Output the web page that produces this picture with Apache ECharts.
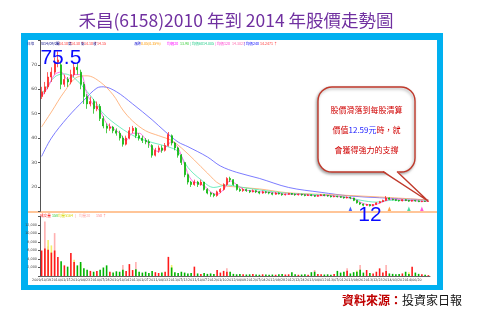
<!DOCTYPE html>
<html><head><meta charset="utf-8">
<script src="https://cdn.jsdelivr.net/npm/echarts@6/dist/echarts.min.js"></script>
<style>
html,body{margin:0;padding:0;background:#fff;}
#frame{position:absolute;left:21px;top:33px;width:422px;height:257px;background:#00b0f0;}
#inner{position:absolute;left:28px;top:40px;width:409px;height:245px;background:#fff;}
#c{position:absolute;left:0;top:0;width:477px;height:324px;}
</style>
</head><body>
<div id="frame"></div><div id="inner"></div>
<div id="c"></div>
<script>
const dateLabels = ['2009/10/19','2010/01/15','2010/04/23','2010/07/28','2010/10/14','2011/01/07','2011/04/13','2011/07/13','2011/10/07','2012/01/10','2012/04/09','2012/07/04','2012/09/28','2012/12/24','2013/04/01','2013/07/01','2013/09/26','2013/12/23','2014/03/20','2014/06/20'];

const opens = [57,59,61,65,67,71,70,62,64,63,
66,69,67,62,57,54,55,52,53,48,
45,44,44.5,43,42,40,37.5,40,43,44,
41,40,39,38.5,37,33,35,36,35,37,
41,38,36,33,30,25,22,21,22,21,
22,19,17.5,17,16.5,18,19,21,23.5,23,
21,19,18.5,19,18.5,18,18.5,18,17.5,18,
17.8,17.5,17,17.5,17.2,16.8,17,17.3,17,16.8,
17,16.8,16.5,16.8,16.5,16.2,16.5,16.8,16.5,16.3,
16,16.2,16,15.8,15.5,15.8,15.5,14.5,13.5,13,
12.5,12.8,12.3,12.8,13.5,14,14.5,15.5,15,14.8,
14.5,14.3,14.8,14.5,14.2,14.5,14.3,14,14.2,14.1];

const closes = [59,61,65,67,71,72,62,64,63,66,
69,68,62,57,54,55,52,53,48,45,
44,44.5,43,42,40,37.5,40,43,44,41,
40,39,38.5,38,33,35,36,35,37,41.5,
38,36,33,30,25,22,21,22,21,22,
19,17.5,17,16.5,18,19,21,23.5,23,21,
19,18.5,19,18.5,18,18.5,18,17.5,18,17.8,
17.5,17,17.5,17.2,16.8,17,17.3,17,16.8,17,
16.8,16.5,16.8,16.5,16.2,16.5,16.8,16.5,16.3,16,
16.2,16,15.8,15.5,15.8,15.5,14.5,13.5,13,12.5,
12.8,12.3,12.8,13.5,14,14.5,15.5,15,14.8,14.5,
14.3,14.8,14.5,14.2,14.5,14.3,14,14.2,14.1,14.15];

const lows = [56,58,60,63,66,69,60,61,61,62,
65,66,60,54,52,53,50,51,47,44,
42,43,42,41,39,36.5,37,39.5,42,40,
39,38,37.5,36,32,32.5,34,34,34.5,36.5,
37,35,32,29,24,21,20,20.5,20,20.5,
18.5,17,16,15.8,16,17.5,18.5,20.5,22,20.5,
18.5,18,18,18,17.5,17.8,17.5,17,17.2,17.3,
17,16.6,16.8,16.9,16.4,16.5,16.8,16.7,16.4,16.5,
16.4,16.2,16.3,16.2,15.9,16,16.3,16.2,16,15.7,
15.8,15.7,15.5,15.2,15.3,15,14.2,13.2,12.6,12.1,
12.2,12,12.1,12.6,13.3,13.8,14.3,14.7,14.5,14.2,
14,14.1,14.2,13.9,14,14,13.8,13.8,13.9,14.1];

const highs = [61,63,67,69,73,75.5,71,66,65,68,
71,71,68,63,58,57,56,55,54,49,
46,46,45,44,43,41,41,44.5,45,44.5,
42,41,40,39.5,37.5,36,37,37,38,42.5,
41.5,38.5,36.5,33.5,30,25.5,22.5,23,22.5,23,
22,19.5,18,17.5,18.5,19.5,21.5,24,24.2,23.2,
21.2,19.5,19.5,19.3,18.8,19,18.8,18.3,18.5,18.3,
18,17.8,17.9,17.8,17.4,17.3,17.6,17.5,17.3,17.3,
17.2,17,17.1,17,16.7,16.8,17.1,17,16.7,16.5,
16.5,16.4,16.2,16,16.1,16,15.6,14.6,13.8,13.2,
13.1,13,13,13.7,14.3,14.8,16.3,15.7,15.2,15,
14.7,15,15,14.7,14.7,14.6,14.5,14.4,14.3,14.3];

const volumes = [6000,6500,6200,5500,6000,4500,3500,2500,2200,5400,
3300,2500,3300,1800,1500,1200,1000,1200,1500,2000,
2500,1000,800,1100,1000,1500,1200,2800,1400,1600,
1000,800,1000,700,1200,900,700,800,1000,4500,
2000,900,700,1000,800,600,700,2200,600,500,
700,500,600,500,1400,800,1200,1000,1000,500,
400,450,400,350,400,500,350,300,400,350,
300,350,300,400,500,350,400,900,400,300,
350,400,300,900,1000,500,400,350,400,300,
500,1200,800,1000,1250,600,900,1000,1500,800,
1400,700,600,1000,1800,800,1200,600,500,400,
500,600,1000,500,2200,800,500,400,300,200];

const volPink = [[1,12800],[4,10100],[2,7000],[25,2600],[29,3300],[57,1800],[84,1400],[94,1800],[98,2600],[106,2600]];
const volYellow = [[2,8500],[3,7200],[10,3800],[12,2800],[40,2600],[97,1300],[113,900]];

const ma20 = [[0,57],[2,61],[4,66],[6,67],[8,64],[10,66],[12,66],[14,58],[16,53.5],[18,51],[20,46],[22,44],[24,42],[26,39],[28,42],[30,42],[32,39.5],[34,36],[36,34.5],[38,36],[40,38.5],[42,36],[44,29],[46,23],[48,21.5],[50,20.5],[52,18],[54,17],[56,19],[58,22.5],[60,21],[62,19],[64,18.5],[67,18],[70,17.8],[73,17.3],[76,17],[79,17],[82,16.7],[85,16.4],[88,16.5],[91,16.1],[94,15.7],[96,15.2],[98,13.8],[100,12.8],[102,12.6],[104,13.4],[106,14.5],[108,15],[111,14.6],[114,14.4],[117,14.2],[119,14.1]];
const ma60 = [[0,57.7],[4,65],[7,66.3],[9,65.5],[11,63.5],[14,59],[17,54],[19,50],[24,44.5],[29,40.5],[34,38.2],[39,36.4],[42,34.5],[45,28],[49,23],[53,19.8],[57,20.8],[61,20],[67,18.8],[75,17.5],[85,16.8],[93,16],[98,14.6],[103,13.8],[108,14.6],[113,14.5],[119,14.2]];
const ma120 = [[0,44.6],[3,50.7],[7,59],[11,65],[14,65.5],[18,63],[22,57.7],[25,51.5],[28,47],[32,43],[36,41],[40,39],[43,36],[47,31],[51,25.7],[55,21],[60,20],[67,19.2],[76,17.6],[90,16.8],[104,15.9],[119,14.7]];
const ma240 = [[0,32.5],[3,40],[8,48.5],[13,55.5],[17,60.5],[19,61],[23,59],[28,54],[34,47.5],[38,42.7],[42,38.4],[45,36.5],[51,32.3],[55,28.6],[60,26],[67,23.5],[76,19.8],[86,17.8],[95,16.3],[104,15.6],[119,14.7]];

const markers = [[95,11.1],[107,11.1],[113,11.1],[117,11.1]];
const markerColors = ['#1a3cff','#ff8c1a','#1fd08a','#ff2ad4'];

const N = closes.length;
const cats = Array.from({length:N}, (_, i) => 'd' + i);
const candle = closes.map((c, i) => [opens[i], c, lows[i], highs[i]]);
const UP = '#ff1a1a', DOWN = '#00b400';
const volData = volumes.map((v, i) => ({value: v, itemStyle: {color: closes[i] >= opens[i] ? UP : DOWN}}));
const showIdx = (i) => i % 6 === 0;

const chart = echarts.init(document.getElementById('c'), null, {renderer: 'canvas'});
const lineS = (data, color) => ({type: 'line', data, xAxisIndex: 0, yAxisIndex: 0, symbol: 'none', smooth: 0.35, lineStyle: {width: 0.8, color}, z: 3, silent: true});

const fmtThousands = (v) => String(v).replace(/\B(?=(\d{3})+(?!\d))/g, ',');
const FT = 'Noto Sans CJK TC, sans-serif';
const small = (x, y, text, color, size) => ({type: 'text', x, y, style: {text, fill: color, font: (size || 3.6) + 'px ' + FT, textVerticalAlign: 'middle'}});

const option = {
  animation: false,
  grid: [
    {left: 40, top: 40.4, width: 390, height: 171},
    {left: 40, top: 216.5, width: 390, height: 59.5}
  ],
  xAxis: [
    {type: 'category', gridIndex: 0, data: cats, boundaryGap: true, axisLine: {show: false}, axisTick: {show: false}, axisLabel: {show: false}},
    {type: 'category', gridIndex: 1, data: cats, boundaryGap: true,
     axisLine: {lineStyle: {color: '#666', width: 1}},
     axisTick: {interval: (i) => showIdx(i), length: 2, lineStyle: {color: '#666'}},
     axisLabel: {interval: (i) => showIdx(i), formatter: (v, i) => dateLabels[i / 6] || '', fontSize: 3.3, color: '#333', margin: 2.5, fontFamily: 'DejaVu Sans'}}
  ],
  yAxis: [
    {type: 'value', gridIndex: 0, min: 10, max: 80, interval: 10,
     axisLine: {show: true, lineStyle: {color: '#555'}}, axisTick: {show: true, length: 2, lineStyle: {color: '#555'}},
     splitLine: {show: false},
     axisLabel: {fontSize: 4.5, color: '#444', margin: 3, fontFamily: 'DejaVu Sans', formatter: (v) => (v === 10 || v === 80) ? '' : String(v)}},
    {type: 'value', gridIndex: 1, min: 0, max: 14000, interval: 2000,
     axisLine: {show: true, lineStyle: {color: '#555'}}, axisTick: {show: true, length: 2, lineStyle: {color: '#555'}},
     splitLine: {show: false},
     axisLabel: {fontSize: 3.4, color: '#444', margin: 3, fontFamily: 'DejaVu Sans', formatter: (v) => (v === 0 || v === 14000) ? '' : fmtThousands(v)}}
  ],
  series: [
    lineS(ma240, '#5a5aff'),
    lineS(ma120, '#ffa466'),
    lineS(ma60, '#4fe8b0'),
    lineS(ma20, '#ff4fe0'),
    {type: 'candlestick', xAxisIndex: 0, yAxisIndex: 0, data: candle, barMaxWidth: 1.8, z: 4,
     itemStyle: {color: UP, color0: DOWN, borderColor: UP, borderColor0: DOWN, borderWidth: 0.7},
     markPoint: {symbol: 'circle', symbolSize: 0, silent: true,
       data: [
         {coord: [5, 75.5], label: {show: true, formatter: '75.5', offset: [3, 7], color: '#0a0aff', fontSize: 21, fontFamily: 'Liberation Sans Narrow, Liberation Sans, Arial'}},
         {coord: [101, 12], label: {show: true, formatter: '12', offset: [0, 9], color: '#0a0aff', fontSize: 21, fontFamily: 'Liberation Sans Narrow, Liberation Sans, Arial'}}
       ]}},
    {type: 'scatter', xAxisIndex: 0, yAxisIndex: 0, symbol: 'triangle', symbolSize: [3.5, 4.5], z: 5,
     data: markers.map((m, k) => ({value: m, itemStyle: {color: markerColors[k]}}))},
    {type: 'bar', xAxisIndex: 1, yAxisIndex: 1, data: volPink, barWidth: 1.6, barGap: '-100%', itemStyle: {color: '#ffb0b0'}},
    {type: 'bar', xAxisIndex: 1, yAxisIndex: 1, data: volYellow, barWidth: 1.6, barGap: '-100%', itemStyle: {color: '#f2ee6a'}},
    {type: 'bar', xAxisIndex: 1, yAxisIndex: 1, data: volData, barWidth: 1.6, barGap: '-100%'}
  ],
  graphic: [
    {type: 'text', x: 236, y: 20, style: {text: '禾昌(6158)2010 年到 2014 年股價走勢圖', fill: '#7030a0', font: '17.5px ' + FT, textAlign: 'center', textVerticalAlign: 'middle'}},
    {type: 'text', x: 342, y: 300, style: {text: '{r|資料來源：}{k|投資家日報}', textVerticalAlign: 'middle',
      rich: {r: {fill: '#c00000', font: 'bold 12px ' + FT}, k: {fill: '#111', font: '12px ' + FT}}}},
    {type: 'line', shape: {x1: 28, y1: 212, x2: 437, y2: 212}, style: {stroke: '#ff8c33', lineWidth: 1.2}},
    small(27, 44, '日線', '#333399'),
    small(40, 44, '2014/09/26', '#000080'),
    small(56, 44, '開', '#000080'), small(59, 44, '14.10 ↑', '#ff3030'),
    small(68, 44, '高', '#000080'), small(71, 44, '14.30 ↑', '#ff3030'),
    small(81, 44, '低', '#000080'), small(84, 44, '14.10 ↑', '#ff3030'),
    small(93, 44, '收', '#000080'), small(97, 44, '14.15', '#ff3030'),
    small(134, 44, '漲跌', '#0000cc'), small(141, 44, '0.05(0.35%)', '#ff9900'),
    small(167, 44, '均價20', '#ff00ff'), small(180, 44, '13.90', '#33cc33'),
    small(190, 44, '| 均價60', '#22cc88'), small(203, 44, '14.005', '#22cc88'),
    small(215, 44, '| 均價120', '#ff33cc'), small(232, 44, '14.3027', '#ff66aa'),
    small(244, 44, '| 均價240', '#0000ff'), small(260, 44, '14.2471 ↑', '#ff3333'),
    small(40, 215.7, '成交量', '#ff0000'), small(52, 215.7, '158', '#33cc33'),
    small(58, 215.7, '均量5', '#d6d600'), small(67, 215.7, '164', '#d6d600'),
    small(75, 215.7, '|', '#ff8888'), small(79, 215.7, '均量20', '#ffaaaa'), small(96, 215.7, '150 ↑', '#ff8888'),
    {type: 'rect', z: 50, shape: {x: 318, y: 87, width: 97, height: 85, r: 14},
     style: {fill: '#ffffff', stroke: '#c0392b', lineWidth: 1.4, shadowBlur: 3, shadowColor: 'rgba(0,0,0,0.35)', shadowOffsetX: -1, shadowOffsetY: 1.5}},
    {type: 'polygon', z: 51, shape: {points: [[383, 170.6], [428, 201], [397, 170.6]]}, style: {fill: '#ffffff'}},
    {type: 'polyline', z: 52, shape: {points: [[383, 171.6], [428, 201], [397, 171.6]]}, style: {fill: null, stroke: '#c0392b', lineWidth: 1.4}},
    {type: 'text', z: 53, x: 366.5, y: 110, style: {text: '股價滑落到每股清算', fill: '#d00000', font: '8px ' + FT, textAlign: 'center', textVerticalAlign: 'middle'}},
    {type: 'text', z: 53, x: 366.5, y: 130, style: {text: '{r|價值}{b|12.59元}{r|時，就}', textAlign: 'center', textVerticalAlign: 'middle',
      rich: {r: {fill: '#d00000', font: '8px ' + FT}, b: {fill: '#1a1aff', font: '8px ' + FT}}}},
    {type: 'text', z: 53, x: 366.5, y: 150, style: {text: '會獲得強力的支撐', fill: '#d00000', font: '8px ' + FT, textAlign: 'center', textVerticalAlign: 'middle'}}
  ]
};
chart.setOption(option);
</script>
</body></html>
